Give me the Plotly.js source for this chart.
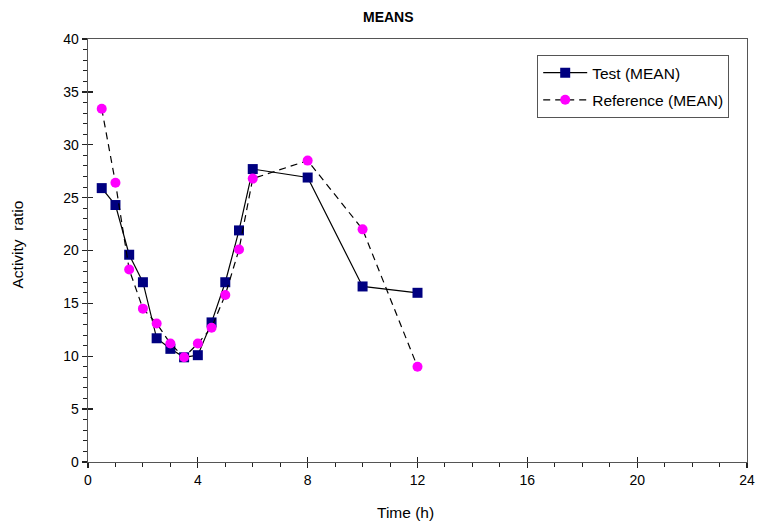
<!DOCTYPE html>
<html>
<head>
<meta charset="utf-8">
<script src="https://cdn.plot.ly/plotly-3.0.1.min.js"></script>
<style>html,body{margin:0;padding:0;background:#fff;}#chart{width:758px;height:522px;}</style>
</head>
<body>
<div id="chart"></div>
<script>
const timeTest = [0.5, 1, 1.5, 2, 2.5, 3, 3.5, 4, 4.5, 5, 5.5, 6, 8, 10, 12];
const testMean = [25.9, 24.3, 19.6, 17.0, 11.7, 10.7, 9.9, 10.1, 13.2, 17.0, 21.9, 27.7, 26.9, 16.6, 16.0];
const timeRef = [0.5, 1, 1.5, 2, 2.5, 3, 3.5, 4, 4.5, 5, 5.5, 6, 8, 10, 12];
const refMean = [33.4, 26.4, 18.2, 14.5, 13.1, 11.2, 9.9, 11.2, 12.7, 15.8, 20.1, 26.8, 28.5, 22.0, 9.0];
const xTicks = [0, 4, 8, 12, 16, 20, 24];
const yTicks = [0, 5, 10, 15, 20, 25, 30, 35, 40];
const seriesNames = ['Test (MEAN)', 'Reference (MEAN)'];

const font = 'Liberation Sans, Arial, sans-serif';
const axisColor = '#555';

const traces = [
  {x: timeTest, y: testMean, name: seriesNames[0], type: 'scatter', mode: 'lines+markers',
   legendgroup: 'a',
   line: {color: '#000', width: 1.2},
   marker: {symbol: 'square', size: 10, color: '#000080', line: {color: '#000080', width: 0}}},
  {x: timeRef, y: refMean, name: seriesNames[1], type: 'scatter', mode: 'lines+markers',
   legendgroup: 'b',
   line: {color: '#000', width: 1.2, dash: '7px,5px'},
   marker: {symbol: 'circle', size: 10, color: '#FF00FF', line: {color: '#FF00FF', width: 0}}}
];

const layout = {
  width: 758, height: 522,
  margin: {l: 88, r: 11.3, t: 38.7, b: 59.7},
  paper_bgcolor: '#fff', plot_bgcolor: '#fff',
  font: {family: font, size: 14, color: '#000'},
  showlegend: true,
  legend: {x: 0.973, y: 0.962, xanchor: 'right', yanchor: 'top',
    bordercolor: '#555', borderwidth: 1, bgcolor: '#fff',
    font: {family: font, size: 15.5, color: '#000'},
    itemwidth: 44,
    traceorder: 'grouped', tracegroupgap: 4},
  xaxis: {range: [0, 24], tickvals: xTicks, ticktext: xTicks.map(String),
    showgrid: false, zeroline: false, showline: true, linecolor: axisColor, linewidth: 1.3,
    mirror: true, ticks: 'outside', ticklen: 5, tickwidth: 1.3, tickcolor: '#222',
    minor: {dtick: 1, ticks: 'outside', ticklen: 4, tickwidth: 1, tickcolor: '#222', showgrid: false},
    tickfont: {family: font, size: 14, color: '#000'}},
  yaxis: {range: [0, 40], tickvals: yTicks, ticktext: yTicks.map(String),
    showgrid: false, zeroline: false, showline: true, linecolor: axisColor, linewidth: 1.3,
    mirror: true, ticks: 'outside', ticklen: 5, tickwidth: 1.3, tickcolor: '#222',
    minor: {dtick: 1, ticks: 'outside', ticklen: 4, tickwidth: 1, tickcolor: '#222', showgrid: false},
    tickfont: {family: font, size: 14, color: '#000'}},
  xaxis2: {overlaying: 'x', range: [0, 24], tickvals: xTicks, showticklabels: false,
    showgrid: false, zeroline: false, showline: false, ticks: 'inside', ticklen: 5, tickwidth: 1.3, tickcolor: '#222'},
  yaxis2: {overlaying: 'y', range: [0, 40], tickvals: yTicks, showticklabels: false,
    showgrid: false, zeroline: false, showline: false, ticks: 'inside', ticklen: 5, tickwidth: 1.3, tickcolor: '#222'},
  annotations: [
    {text: '<b>MEANS</b>', xref: 'paper', yref: 'paper', x: (388 - 88) / 658.7, y: (462.3 - 17) / 423.6,
     xanchor: 'center', yanchor: 'middle', showarrow: false, font: {family: font, size: 14, color: '#000'}},
    {text: 'Time (h)', xref: 'paper', yref: 'paper', x: (405 - 88) / 658.7, y: (462.3 - 512.7) / 423.6,
     xanchor: 'center', yanchor: 'middle', showarrow: false, font: {family: font, size: 15.5, color: '#000'}},
    {text: 'Activity\u00a0 ratio', xref: 'paper', yref: 'paper', x: (17.5 - 88) / 658.7, y: (462.3 - 244) / 423.6,
     xanchor: 'center', yanchor: 'middle', textangle: -90, showarrow: false, font: {family: font, size: 15.5, color: '#000'}}
  ]
};

const extra = {x: [null], y: [null], xaxis: 'x2', yaxis: 'y2', showlegend: false, hoverinfo: 'skip', type: 'scatter', mode: 'markers'};

Plotly.newPlot('chart', traces.concat([extra]), layout, {staticPlot: true, displayModeBar: false});
</script>
</body>
</html>
